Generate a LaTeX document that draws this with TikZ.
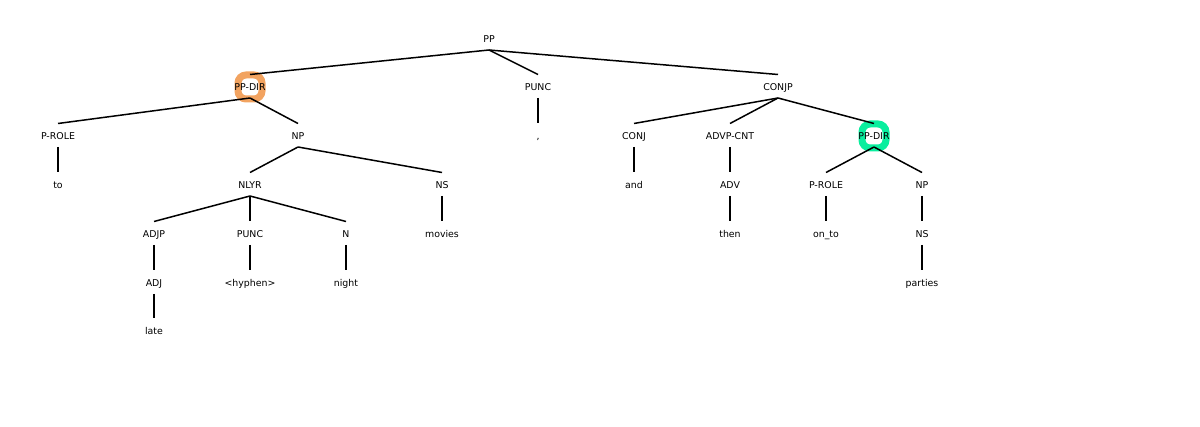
\documentclass[tikz,border=0pt]{standalone}
\usepackage{fontspec}
\setmainfont{DejaVu Sans}
\begin{document}
\begin{tikzpicture}[x=1pt,y=-1pt,
  lab/.style={inner sep=0pt,text height=9pt,text depth=2pt,font=\fontsize{9.4}{11}\selectfont},
  edge/.style={line width=1.5pt},
  hl/.style={draw=#1,line width=7pt,fill=white,rounded corners=8pt,minimum width=24pt,minimum height=24pt,inner sep=0pt}]
\definecolor{hlorange}{RGB}{242,163,96}
\definecolor{hlgreen}{RGB}{10,238,158}
\useasboundingbox (0,0) rectangle (1200,427);
\node[hl=hlorange] (h1) at (250,87) {};
\node[hl=hlgreen] (h2) at (874,136) {};
\node[lab] (pp) at (489,39) {PP};
\node[lab] (ppdir) at (250,87) {PP-DIR};
\node[lab] (punc) at (538,87) {PUNC};
\node[lab] (conjp) at (778,87) {CONJP};
\node[lab] (prole) at (58,136) {P-ROLE};
\node[lab] (np) at (298,136) {NP};
\node[lab] (comma) at (538,136) {,};
\node[lab] (conj) at (634,136) {CONJ};
\node[lab] (advp) at (730,136) {ADVP-CNT};
\node[lab] (ppdirb) at (874,136) {PP-DIR};
\node[lab] (to) at (58,185) {to};
\node[lab] (nlyr) at (250,185) {NLYR};
\node[lab] (ns) at (442,185) {NS};
\node[lab] (and) at (634,185) {and};
\node[lab] (adv) at (730,185) {ADV};
\node[lab] (proleb) at (826,185) {P-ROLE};
\node[lab] (npb) at (922,185) {NP};
\node[lab] (adjp) at (154,234) {ADJP};
\node[lab] (puncb) at (250,234) {PUNC};
\node[lab] (n) at (346,234) {N};
\node[lab] (movies) at (442,234) {movies};
\node[lab] (then) at (730,234) {then};
\node[lab] (onto) at (826,234) {on\_to};
\node[lab] (nsb) at (922,234) {NS};
\node[lab] (adj) at (154,283) {ADJ};
\node[lab] (hyphen) at (250,283) {<hyphen>};
\node[lab] (night) at (346,283) {night};
\node[lab] (parties) at (922,283) {parties};
\node[lab] (late) at (154,331) {late};
\foreach \a/\b in {pp/ppdir,pp/punc,pp/conjp,ppdir/prole,ppdir/np,punc/comma,
  conjp/conj,conjp/advp,conjp/ppdirb,prole/to,np/nlyr,np/ns,conj/and,advp/adv,
  ppdirb/proleb,ppdirb/npb,nlyr/adjp,nlyr/puncb,nlyr/n,ns/movies,adv/then,
  proleb/onto,npb/nsb,adjp/adj,puncb/hyphen,n/night,nsb/parties,adj/late}
  \draw[edge] ([yshift=-11pt]\a.center) -- ([yshift=12.5pt]\b.center);
\end{tikzpicture}
\end{document}
